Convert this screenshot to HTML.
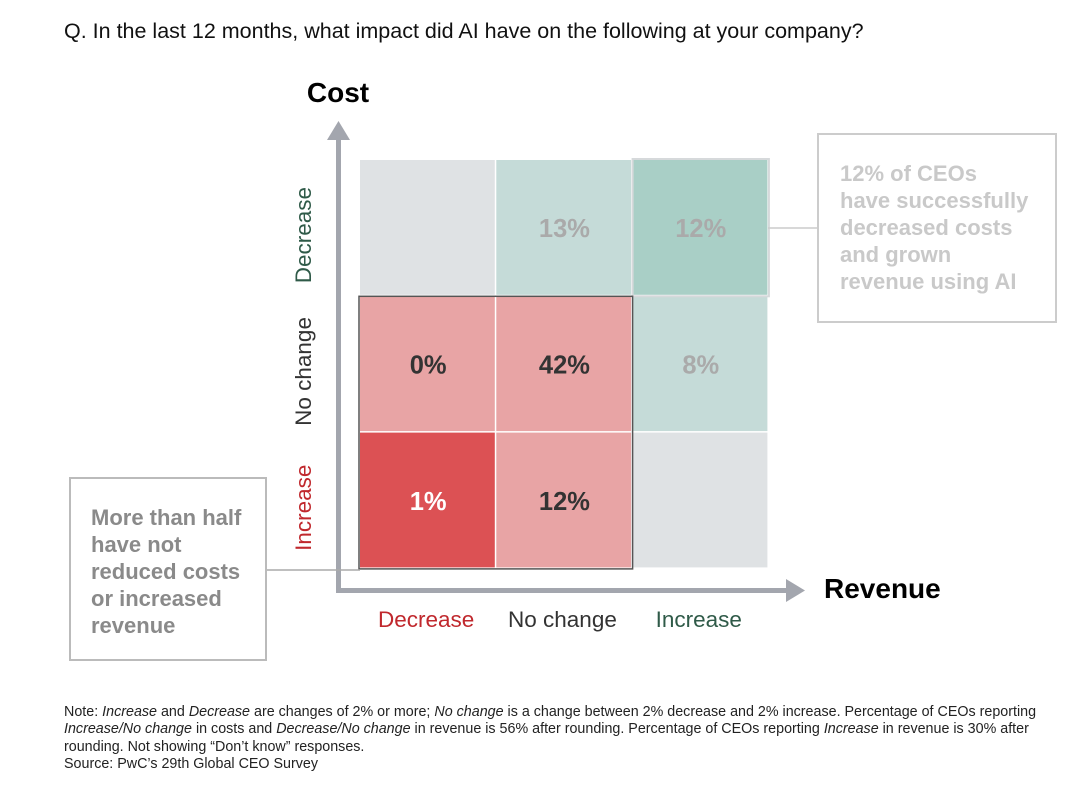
<!DOCTYPE html>
<html><head><meta charset="utf-8"><style>
body{margin:0;background:#fff;font-family:"Liberation Sans",Arial,sans-serif;}
#root{position:relative;width:1080px;height:800px;overflow:hidden;}
.abs{position:absolute;}
</style></head><body>
<div id="root">
<div class="abs" style="left:64px;top:19px;font-size:21.5px;color:#111">Q. In the last 12 months, what impact did AI have on the following at your company?</div>
<svg id="svg" class="abs" style="left:0;top:0" width="1080" height="800"></svg>
<div class="abs" style="left:64px;top:704px;font-size:14.3px;line-height:17.3px;color:#222;width:1010px;white-space:nowrap">Note: <i>Increase</i> and <i>Decrease</i> are changes of 2% or more; <i>No change</i> is a change between 2% decrease and 2% increase. Percentage of CEOs reporting<br><i>Increase/No change</i> in costs and <i>Decrease/No change</i> in revenue is 56% after rounding. Percentage of CEOs reporting <i>Increase</i> in revenue is 30% after<br>rounding. Not showing “Don’t know” responses.<br>Source: PwC’s 29th Global CEO Survey</div>
</div>
<script>
const revenueCats=["Decrease","No change","Increase"];
const costCats=["Decrease","No change","Increase"];
// rows = cost (top to bottom), cols = revenue
const values=[[null,13,12],[0,42,8],[1,12,null]];
const fills=[["#dfe2e4","#c5dbd8","#a9cfc6"],["#e8a4a5","#e8a4a5","#c5dbd8"],["#dc5154","#e8a4a5","#dfe2e4"]];
const textColors=[["#aaa","#aaa","#aaa"],["#333","#333","#aaa"],["#fff","#333","#aaa"]];
const revColors=["#c0282d","#333","#2f5a48"];
const costColors=["#2f5a48","#333","#c0282d"];
const NS="http://www.w3.org/2000/svg";
const svg=document.getElementById('svg');
const x0=360,y0=160,cw=136.3,ch=136.3;
const xs=i=>x0+i*cw, ys=j=>y0+j*ch;
function mk(t,a){const e=document.createElementNS(NS,t);for(const k in a)e.setAttribute(k,a[k]);svg.appendChild(e);return e;}
values.forEach((row,j)=>row.forEach((v,i)=>{
 const r=mk('rect',{x:xs(i),y:ys(j),width:cw-1.5,height:ch-1.5,fill:fills[j][i]});
 
 
 if(v!==null){const t=mk('text',{x:xs(i)+cw/2,y:ys(j)+ch/2+9,'text-anchor':'middle','font-size':25.5,'font-weight':'bold',fill:textColors[j][i]});t.textContent=v+'%';
 
 }
}));
const hb=mk('rect',{x:xs(2),y:ys(0)-1,width:cw,height:ch+1,fill:'none',stroke:'#d6d9db','stroke-width':2});


const pb=mk('rect',{x:xs(0)-1,y:ys(1),width:2*cw+1,height:2*ch,fill:'none',stroke:'#555','stroke-width':1.5});


const ay=mk('rect',{x:336,y:136,width:5,height:457,fill:'#a3a6ae'});


const ah=mk('polygon',{points:'327,140 350,140 338.5,121',fill:'#a3a6ae'});


const ax=mk('rect',{x:336,y:588,width:455,height:5,fill:'#a3a6ae'});


const xh=mk('polygon',{points:'786,579 786,602 805,590.5',fill:'#a3a6ae'});


const yt=mk('text',{x:338,y:102,'text-anchor':'middle','font-size':28,'font-weight':'bold',fill:'#000'});yt.textContent='Cost';


const xt=mk('text',{x:824,y:598,'font-size':28,'font-weight':'bold',fill:'#000'});xt.textContent='Revenue';


revenueCats.forEach((c,i)=>{const t=mk('text',{x:xs(i)+cw/2-2,y:627,'text-anchor':'middle','font-size':22.5,fill:revColors[i]});t.textContent=c;
 
 });
costCats.forEach((c,j)=>{const cy=ys(j)+ch/2+7;const t=mk('text',{x:0,y:0,'text-anchor':'middle','font-size':22.5,fill:costColors[j],transform:`translate(311,${cy}) rotate(-90)`});t.textContent=c;
 
 });
const l1=mk('line',{x1:768,y1:228,x2:818,y2:228,stroke:'#ccc','stroke-width':1.5});


const l2=mk('line',{x1:266,y1:570,x2:360,y2:570,stroke:'#aaa','stroke-width':1.5});


const b1=mk('rect',{x:818,y:134,width:238,height:188,fill:'#fff',stroke:'#ccc','stroke-width':2});


["12% of CEOs","have successfully","decreased costs","and grown","revenue using AI"].forEach((s,k)=>{const t=mk('text',{x:840,y:181+k*27,'font-size':22,'font-weight':'bold',fill:'#c9c9c9'});t.textContent=s;
 
 });
const b2=mk('rect',{x:70,y:478,width:196,height:182,fill:'#fff',stroke:'#bbb','stroke-width':2});


["More than half","have not","reduced costs","or increased","revenue"].forEach((s,k)=>{const t=mk('text',{x:91,y:525+k*27,'font-size':22,'font-weight':'bold',fill:'#8a8a8a'});t.textContent=s;
 
 });
</script>
</body></html>
